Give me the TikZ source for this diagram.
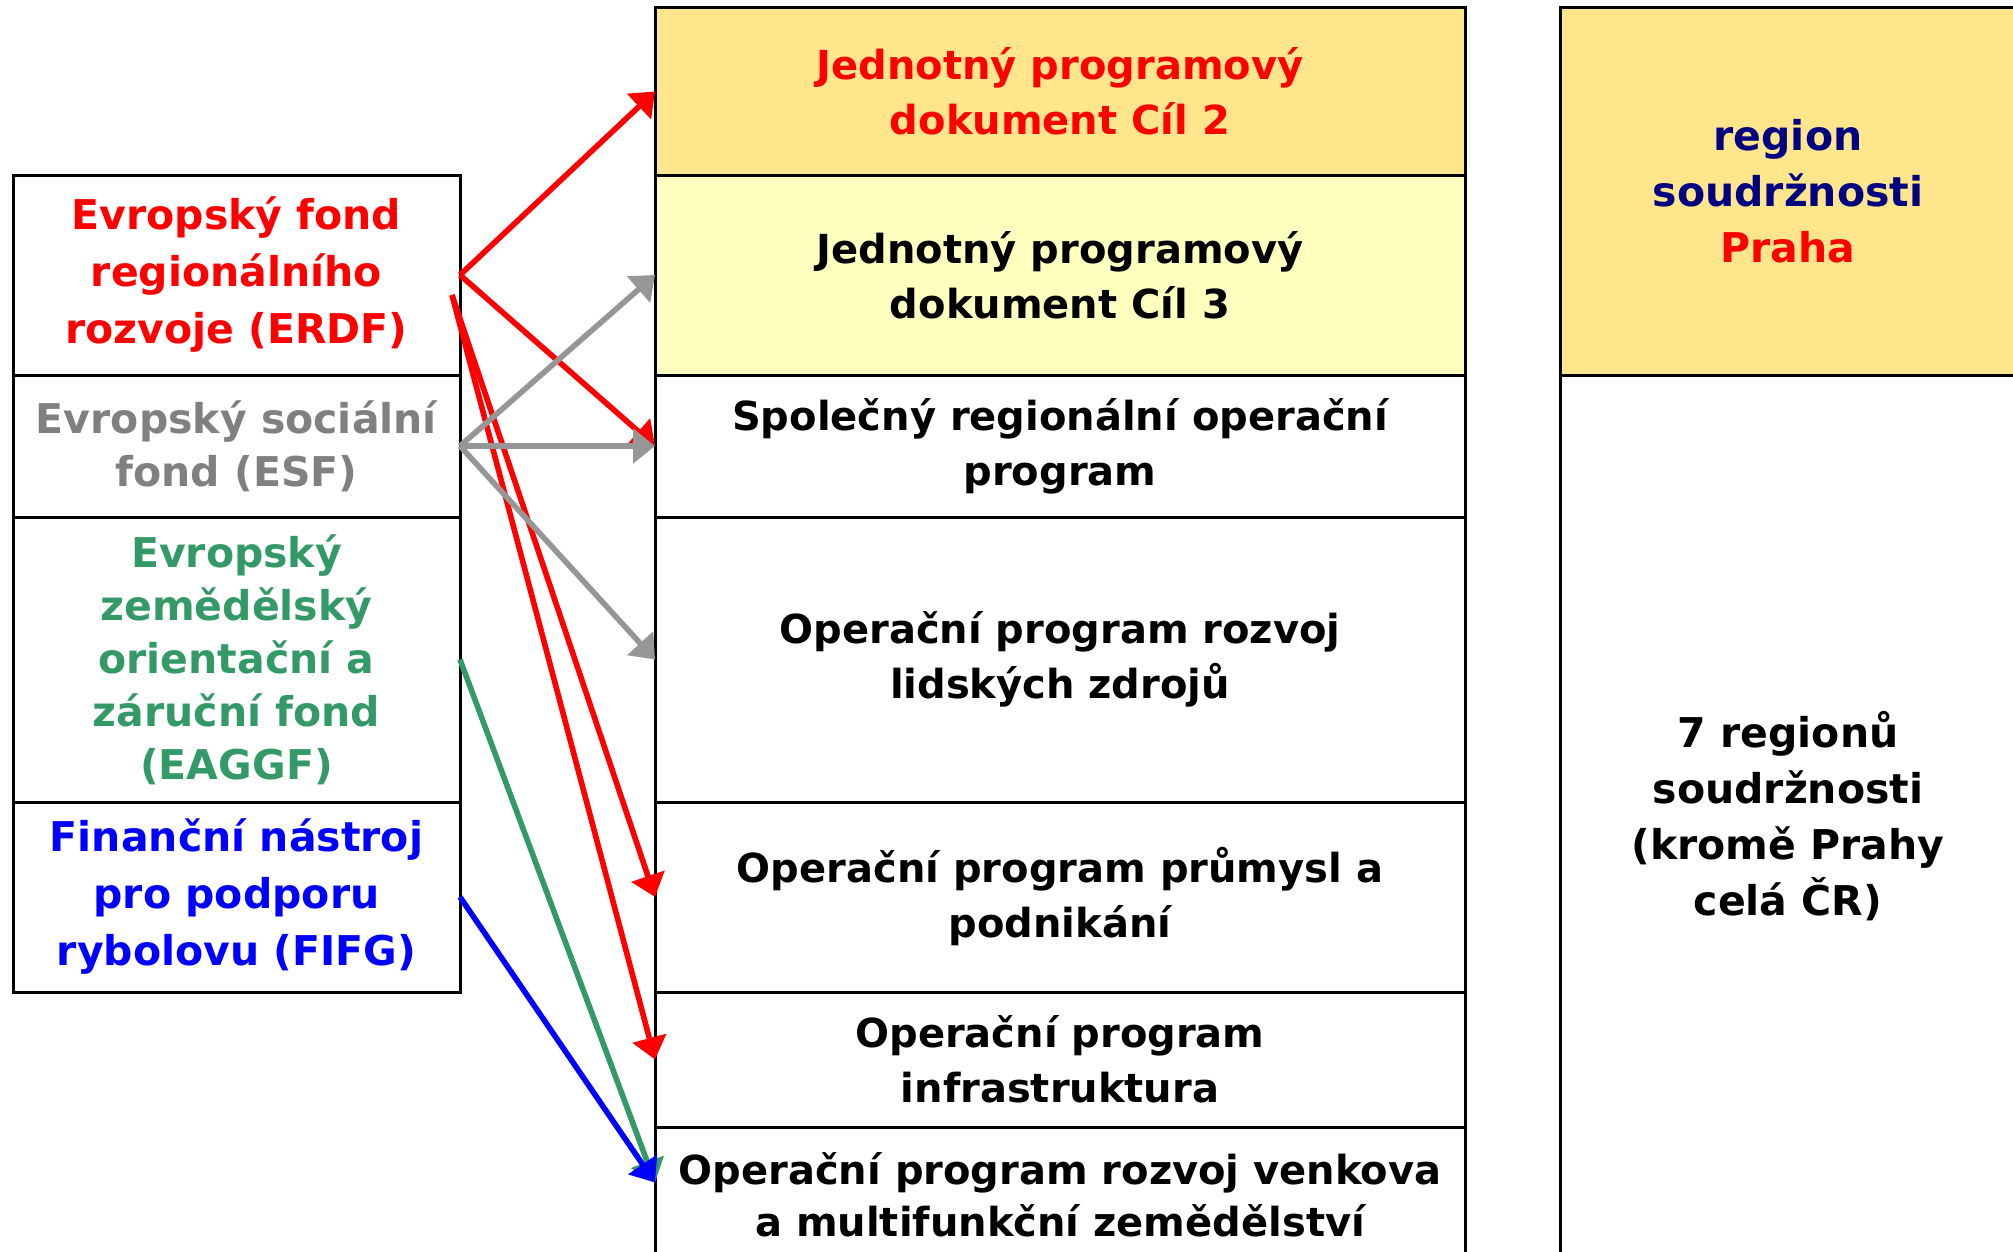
\documentclass[tikz,border=0pt]{standalone}
\usepackage{fontspec}
\setmainfont{DejaVu Sans}
\usetikzlibrary{positioning,arrows.meta}
\definecolor{mred}{RGB}{255,0,0}
\definecolor{mgray}{RGB}{128,128,128}
\definecolor{mlightgray}{RGB}{150,150,150}
\definecolor{mgreen}{RGB}{51,153,102}
\definecolor{mblue}{RGB}{0,0,255}
\definecolor{mnavy}{RGB}{0,0,128}
\definecolor{mgold}{RGB}{255,230,140}
\definecolor{mcream}{RGB}{255,255,192}

\begin{document}
\begin{tikzpicture}[
    box/.style={rectangle, draw=black, line width=1.5pt, inner sep=0pt, outer sep=0pt, align=center,
        font=\fontsize{20.5pt}{27.5pt}\selectfont\bfseries},
    fund/.style={box, minimum width=223.5pt, font=\fontsize{20.5pt}{28.5pt}\selectfont\bfseries},
    prog/.style={box, minimum width=405pt, font=\fontsize{20pt}{27.5pt}\selectfont\bfseries},
    area/.style={box, minimum width=228pt, font=\fontsize{20.5pt}{28pt}\selectfont\bfseries},
    arrow_fund/.style={-{Triangle[length=11pt,width=17pt]}, line width=2.8pt},
    ]

\useasboundingbox (0,0) rectangle (1006.5pt,-626pt);

% fondy
\node[fund, minimum height=100pt, anchor=north west, text=mred] (erdf) at (6.5pt,-87.5pt) {Evropský fond\\regionálního\\rozvoje (ERDF)};
\node[fund, minimum height=71pt, below=0pt of erdf, text=mgray, font=\fontsize{20.5pt}{26.5pt}\selectfont\bfseries] (esf) {Evropský sociální\\fond (ESF)};
\node[fund, minimum height=142.5pt, below=0pt of esf, text=mgreen, font=\fontsize{20.5pt}{26.5pt}\selectfont\bfseries] (eaggf) {Evropský\\zemědělský\\orientační a\\záruční fond\\(EAGGF)};
\node[fund, minimum height=95pt, below=0pt of eaggf, text=mblue] (fifg) {Finanční nástroj\\pro podporu\\rybolovu (FIFG)};

% programy
\node[prog, minimum height=83.5pt, anchor=north west, fill=mgold, text=mred] (jpd2) at (327.5pt,-4pt) {Jednotný programový\\dokument Cíl 2};
\node[prog, minimum height=100pt, below=0pt of jpd2, fill=mcream] (jpd3) {Jednotný programový\\dokument Cíl 3};
\node[prog, minimum height=71pt, below=0pt of jpd3] (srop) {Společný regionální operační\\program};
\node[prog, minimum height=142.5pt, below=0pt of srop] (oprlz) {Operační program rozvoj\\lidských zdrojů};
\node[prog, minimum height=95pt, below=0pt of oprlz] (oppp) {Operační program průmysl a\\podnikání};
\node[prog, minimum height=67.5pt, below=0pt of oppp] (opi) {Operační program\\infrastruktura};
\node[prog, minimum height=67.5pt, below=0pt of opi, font=\fontsize{20pt}{26pt}\selectfont\bfseries] (oprv) {Operační program rozvoj venkova\\a multifunkční zemědělství};

% regiony
\node[area, minimum height=183.5pt, anchor=north west, fill=mgold, text=mnavy] (praha) at (780pt,-4pt) {region\\soudržnosti\\\textcolor{mred}{Praha}};
\node[area, minimum height=441.5pt, below=0pt of praha] (regiony) {7 regionů\\soudržnosti\\(kromě Prahy\\celá ČR)};

% sipky
\draw[arrow_fund, mred] (erdf.east) -- (jpd2.west);
\draw[arrow_fund, mred] (erdf.east) -- (srop.west);
\draw[arrow_fund, mred] ([xshift=-4pt,yshift=-10pt]erdf.east) -- (oppp.west);
\draw[arrow_fund, mred] ([xshift=-4pt,yshift=-10pt]erdf.east) -- (opi.west);
\draw[arrow_fund, mlightgray] (esf.east) -- (jpd3.west);
\draw[arrow_fund, mlightgray] (esf.east) -- (srop.west);
\draw[arrow_fund, mlightgray] (esf.east) -- (oprlz.west);
\draw[arrow_fund, mgreen] (eaggf.east) -- ([yshift=6pt]oprv.west);
\draw[arrow_fund, mblue] (fifg.east) -- ([yshift=6pt]oprv.west);

\end{tikzpicture}
\end{document}
